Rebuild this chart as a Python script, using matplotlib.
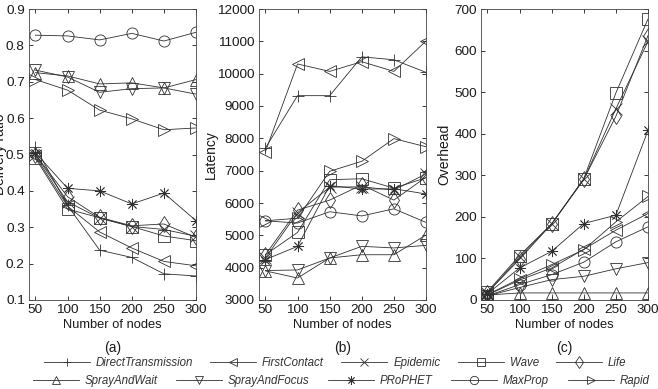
import numpy as np
import matplotlib.pyplot as plt
from matplotlib.lines import Line2D

plt.rcParams['font.family'] = ['Liberation Sans', 'DejaVu Sans']

nodes = [50, 100, 150, 200, 250, 300]
protocols = ['DirectTransmission', 'FirstContact', 'Epidemic', 'Wave', 'Life',
             'SprayAndWait', 'SprayAndFocus', 'PRoPHET', 'MaxProp', 'Rapid']
markers = ['+', '<', 'x', 's', 'd', '^', 'v', (8, 2, 0), 'o', '>']

# (a) delivery ratio
delivery = {
    'DirectTransmission': [0.52, 0.36, 0.237, 0.217, 0.172, 0.166],
    'FirstContact':       [0.495, 0.358, 0.287, 0.243, 0.206, 0.194],
    'Epidemic':           [0.50, 0.37, 0.325, 0.302, 0.294, 0.275],
    'Wave':               [0.49, 0.35, 0.326, 0.302, 0.276, 0.263],
    'Life':               [0.50, 0.384, 0.327, 0.304, 0.309, 0.272],
    'SprayAndWait':       [0.725, 0.716, 0.694, 0.697, 0.683, 0.706],
    'SprayAndFocus':      [0.732, 0.713, 0.671, 0.681, 0.683, 0.666],
    'PRoPHET':            [0.505, 0.407, 0.40, 0.364, 0.394, 0.318],
    'MaxProp':            [0.828, 0.826, 0.815, 0.833, 0.812, 0.836],
    'Rapid':              [0.706, 0.677, 0.622, 0.598, 0.568, 0.573],
}

# (b) latency
latency = {
    'DirectTransmission': [7700, 9320, 9320, 10520, 10430, 10040],
    'FirstContact':       [7590, 10300, 10070, 10370, 10070, 11010],
    'Epidemic':           [4300, 5700, 6490, 6500, 6400, 6900],
    'Wave':               [4400, 5090, 6720, 6750, 6460, 6780],
    'Life':               [4400, 5780, 6090, 6560, 6090, 6800],
    'SprayAndWait':       [3900, 3680, 4300, 4400, 4400, 5010],
    'SprayAndFocus':      [3910, 3930, 4300, 4660, 4610, 4690],
    'PRoPHET':            [4250, 4660, 6540, 6430, 6440, 6280],
    'MaxProp':            [5450, 5380, 5730, 5600, 5820, 5400],
    'Rapid':              [5450, 5530, 6980, 7290, 7990, 7740],
}

# (c) overhead
overhead = {
    'DirectTransmission': [0, 0, 0, 0, 0, 0],
    'FirstContact':       [12, 48, 77, 122, 168, 208],
    'Epidemic':           [17, 103, 183, 290, 460, 622],
    'Wave':               [20, 107, 183, 292, 498, 676],
    'Life':               [18, 98, 183, 290, 442, 636],
    'SprayAndWait':       [12, 17, 17, 17, 17, 17],
    'SprayAndFocus':      [10, 30, 49, 57, 75, 90],
    'PRoPHET':            [15, 77, 117, 184, 204, 408],
    'MaxProp':            [10, 37, 61, 91, 140, 176],
    'Rapid':              [13, 51, 85, 121, 188, 249],
}

panels = [
    (delivery, 'Delivery ratio', (0.1, 0.9), np.arange(0.1, 0.91, 0.1), '(a)', -0.13),
    (latency, 'Latency', (3000, 12000), np.arange(3000, 12001, 1000), '(b)', -0.245),
    (overhead, 'Overhead', (0, 700), np.arange(0, 701, 100), '(c)', -0.18),
]

line_color = '#303030'
text_color = '#1a1a1a'
fig = plt.figure(figsize=(6.58, 3.89), dpi=100)
lefts = [29 / 658, 259 / 658, 481 / 658]
for left, (data, ylabel, ylim, yticks, tag, ylab_x) in zip(lefts, panels):
    ax = fig.add_axes([left, 1 - 300 / 389, 167 / 658, 291 / 389])
    for name, mk in zip(protocols, markers):
        ax.plot(nodes, data[name], color=line_color, lw=0.6, marker=mk,
                markersize=8, fillstyle='none', markeredgewidth=0.6,
                markeredgecolor=line_color)
    ax.set_xlim(40, 300)
    ax.set_ylim(*ylim)
    ax.set_xticks(nodes)
    ax.set_yticks(yticks)
    if ylabel == 'Delivery ratio':
        ax.set_yticklabels([f'{v:.1f}' for v in yticks])
    ax.tick_params(direction='in', top=True, right=True, length=3, width=0.6,
                   labelsize=9.7, pad=3, colors=text_color)
    for sp in ax.spines.values():
        sp.set_linewidth(0.6)
        sp.set_color('#444444')
    ax.set_ylabel(ylabel, fontsize=10, color=text_color)
    ax.yaxis.set_label_coords(ylab_x, 0.5)
    ax.set_xlabel('Number of nodes', fontsize=9.3, color=text_color, labelpad=2)
    ax.text(0.5, -0.165, tag, transform=ax.transAxes, ha='center', va='center',
            fontsize=10, color=text_color)

handles = [Line2D([], [], color=line_color, lw=0.6, marker=mk, markersize=6,
                  fillstyle='none', markeredgewidth=0.6) for mk in markers]
leg_kw = dict(frameon=False, ncol=5, handlelength=4, handletextpad=0.5,
              prop={'style': 'italic', 'size': 8.3}, labelcolor='#333333',
              borderaxespad=0, loc='center')
fig.legend(handles[:5], protocols[:5], bbox_to_anchor=(335 / 658, 1 - 363 / 389),
           columnspacing=1.5, **leg_kw)
fig.legend(handles[5:], protocols[5:], bbox_to_anchor=(341 / 658, 1 - 381 / 389),
           columnspacing=1.6, **leg_kw)

fig.savefig('out.png', dpi=100)
